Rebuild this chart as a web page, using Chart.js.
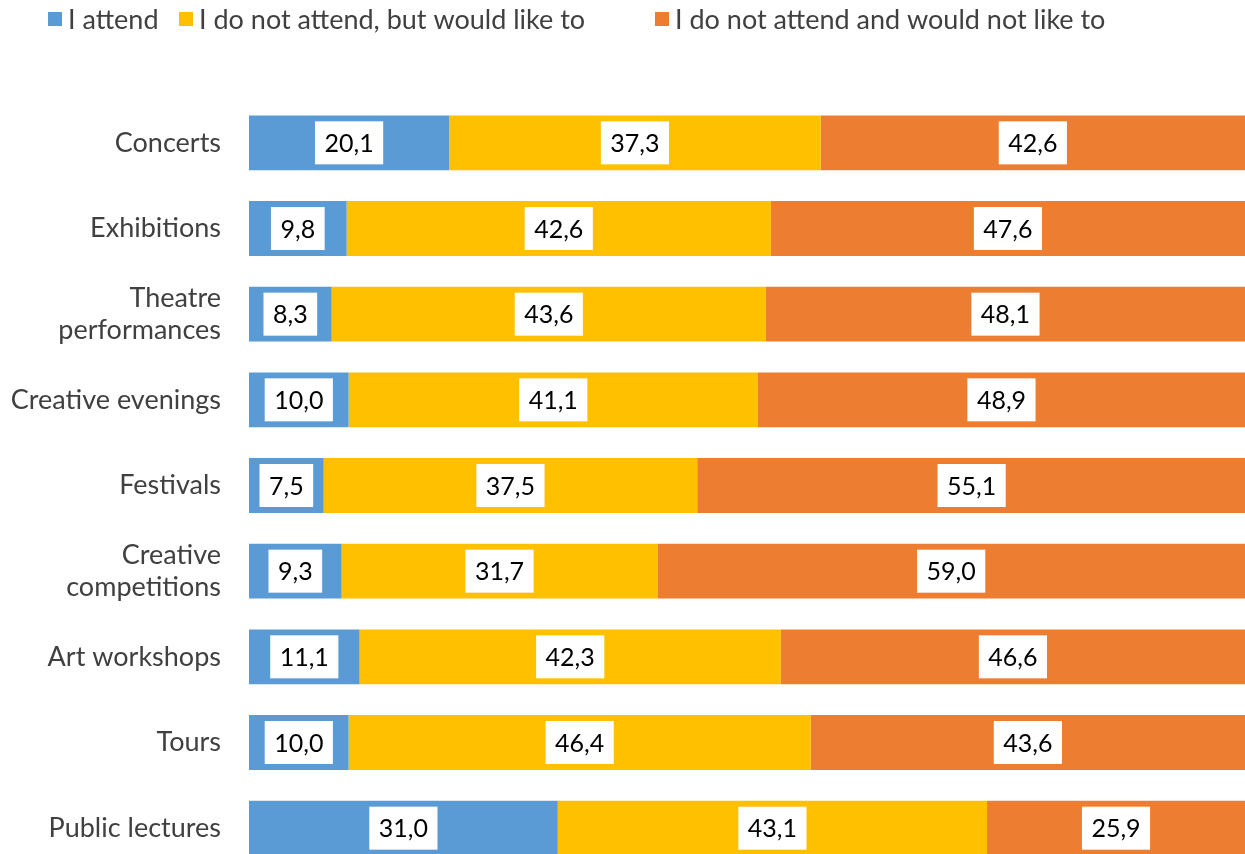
<!DOCTYPE html>
<html>
<head>
<meta charset="utf-8">
<script src="https://cdn.jsdelivr.net/npm/chart.js@4.4.1/dist/chart.umd.min.js"></script>
<style>
  html, body { margin: 0; padding: 0; background: #fff; overflow: hidden; }
</style>
</head>
<body>
<canvas id="myChart" width="1245" height="871"></canvas>
<script>
// categories, top to bottom
const categories = [
    "Concerts",
    "Exhibitions",
    ["Theatre", "performances"],
    "Creative evenings",
    "Festivals",
    ["Creative", "competitions"],
    "Art workshops",
    "Tours",
    "Public lectures"
];

const seriesNames = ["I attend", "I do not attend, but would like to", "I do not attend and would not like to"];
const seriesColors = ["#5B9BD5", "#FFC000", "#ED7D31"];

const attend = [20.1, 9.8, 8.3, 10.0, 7.5, 9.3, 11.1, 10.0, 31.0];
const wouldLike = [37.3, 42.6, 43.6, 41.1, 37.5, 31.7, 42.3, 46.4, 43.1];
const wouldNotLike = [42.6, 47.6, 48.1, 48.9, 55.1, 59.0, 46.6, 43.6, 25.9];

const FONT = "Lato, Calibri, 'Open Sans', sans-serif";
const TEXT_COLOR = "#404040";

// white boxes with values in the middle of every segment
const valueBoxes = {
    id: "valueBoxes",
    afterDatasetsDraw(chart) {
        const ctx = chart.ctx;
        ctx.save();
        ctx.font = "25px " + FONT;
        ctx.textAlign = "center";
        ctx.textBaseline = "middle";
        chart.data.datasets.forEach((ds, di) => {
            const meta = chart.getDatasetMeta(di);
            meta.data.forEach((bar, i) => {
                const txt = ds.data[i].toFixed(1).replace(".", ",");
                const cx = (bar.x + bar.base) / 2;
                const cy = bar.y;
                const w = ctx.measureText(txt).width + 19;
                const h = 43;
                ctx.fillStyle = "#fff";
                ctx.fillRect(cx - w / 2, cy - h / 2, w, h);
                ctx.fillStyle = "#000";
                ctx.fillText(txt, cx, cy + 1);
            });
        });
        ctx.restore();
    }
};

// legend across the top
const legendX = [48, 179, 655];
const topLegend = {
    id: "topLegend",
    afterDraw(chart) {
        const ctx = chart.ctx;
        ctx.save();
        ctx.font = "27px " + FONT;
        ctx.textBaseline = "middle";
        ctx.textAlign = "left";
        chart.data.datasets.forEach((ds, i) => {
            const x = legendX[i];
            ctx.fillStyle = ds.backgroundColor;
            ctx.fillRect(x, 12, 14, 14);
            ctx.fillStyle = TEXT_COLOR;
            ctx.fillText(ds.label, x + 20, 20);
        });
        ctx.restore();
    }
};

const ctx = document.getElementById("myChart");

new Chart(ctx, {
    type: "bar",
    data: {
        labels: categories,
        datasets: [
            { label: seriesNames[0], data: attend, backgroundColor: seriesColors[0] },
            { label: seriesNames[1], data: wouldLike, backgroundColor: seriesColors[1] },
            { label: seriesNames[2], data: wouldNotLike, backgroundColor: seriesColors[2] }
        ]
    },
    options: {
        indexAxis: "y",
        responsive: false,
        animation: false,
        layout: { padding: { top: 100, left: 0, right: 0, bottom: 0 } },
        datasets: {
            bar: { barPercentage: 1, categoryPercentage: 0.64, borderWidth: 0 }
        },
        scales: {
            x: {
                stacked: true,
                display: false,
                min: 0,
                max: 100
            },
            y: {
                stacked: true,
                grid: { display: false, drawTicks: false },
                border: { display: false },
                ticks: {
                    padding: 28,
                    color: TEXT_COLOR,
                    font: { family: FONT, size: 27 }
                },
                afterFit(scale) {
                    scale.width = 249;
                    // labels must not push the plot area in
                    scale.paddingTop = 0;
                    scale.paddingBottom = 0;
                }
            }
        },
        plugins: {
            legend: { display: false },
            tooltip: { enabled: false }
        }
    },
    plugins: [valueBoxes, topLegend]
});
</script>
</body>
</html>
